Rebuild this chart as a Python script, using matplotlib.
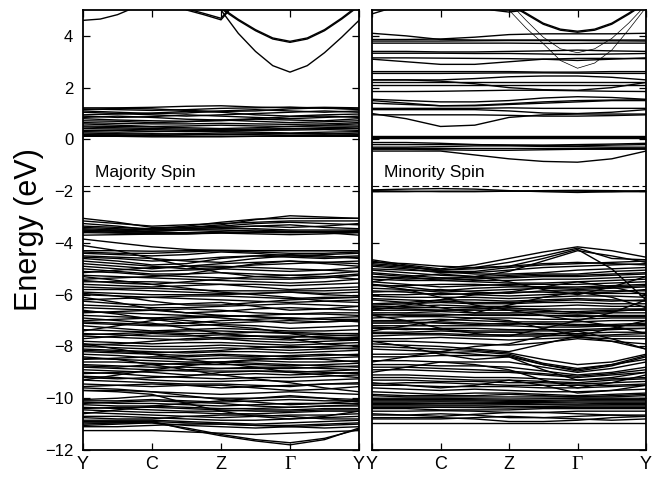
import numpy as np
import matplotlib
matplotlib.use("Agg")
import matplotlib.pyplot as plt

# k-path positions (high-symmetry points Y, C, Z, Gamma, Y)
k_ticks = [0, 1, 2, 3, 4]
k_labels = ["Y", "C", "Z", "\u0393", "Y"]
k_coarse = [0, 0.5, 1.0, 1.5, 2.0, 2.5, 3.0, 3.5, 4.0]
k_fine = [0, 0.25, 0.5, 0.75, 1.0, 1.25, 1.5, 1.75, 2.0,
          2.25, 2.5, 2.75, 3.0, 3.25, 3.5, 3.75, 4.0]

e_fermi = -1.8

# ---- majority spin ----
maj_upper_fine = [
    [4.6, 4.65, 4.82, 5.1, 5.5, 5.8, 5.9, 5.9, 5.9, 5.9, 5.9, 5.9, 5.9, 5.9, 5.9, 5.9, 5.9],
    [5.9, 5.9, 5.9, 5.9, 5.9, 5.5, 5.0, 4.82, 4.62, 5.4, 5.9, 5.9, 5.9, 5.9, 5.9, 5.9, 5.9],
    [5.9, 5.9, 5.9, 5.9, 5.9, 5.55, 5.05, 4.87, 4.68, 5.45, 5.9, 5.9, 5.9, 5.9, 5.9, 5.9, 5.9],
    [5.9, 5.9, 5.9, 5.9, 5.9, 5.9, 5.9, 5.9, 5.05, 4.6, 4.2, 3.88, 3.75, 3.88, 4.2, 4.65, 5.15],
    [5.9, 5.9, 5.9, 5.9, 5.9, 5.9, 5.9, 5.9, 5.1, 4.64, 4.24, 3.92, 3.79, 3.92, 4.24, 4.69, 5.2],
    [5.9, 5.9, 5.9, 5.9, 5.9, 5.9, 5.9, 5.9, 5.0, 4.1, 3.4, 2.85, 2.6, 2.85, 3.35, 3.95, 4.6],
]

maj_d_bands = [
    [1.22, 1.22, 1.24, 1.28, 1.3, 1.25, 1.22, 1.24, 1.22],
    [1.18, 1.15, 1.12, 1.15, 1.2, 1.22, 1.25, 1.2, 1.18],
    [1.15, 1.2, 1.18, 1.12, 1.08, 1.1, 1.18, 1.22, 1.15],
    [1.1, 1.05, 1.0, 1.02, 1.1, 1.15, 1.1, 1.05, 1.1],
    [1.05, 1.0, 0.95, 0.9, 0.95, 1.0, 1.05, 1.1, 1.05],
    [0.95, 0.98, 1.02, 1.08, 1.05, 0.95, 0.9, 0.95, 0.98],
    [0.9, 0.85, 0.88, 0.95, 0.9, 0.85, 0.8, 0.85, 0.9],
    [0.85, 0.9, 0.85, 0.78, 0.75, 0.8, 0.88, 0.9, 0.85],
    [0.8, 0.75, 0.72, 0.7, 0.72, 0.78, 0.75, 0.72, 0.8],
    [0.72, 0.7, 0.65, 0.68, 0.75, 0.7, 0.65, 0.68, 0.72],
    [0.65, 0.62, 0.6, 0.6, 0.62, 0.6, 0.58, 0.6, 0.65],
    [0.6, 0.55, 0.5, 0.52, 0.55, 0.52, 0.5, 0.55, 0.6],
    [0.52, 0.5, 0.48, 0.45, 0.42, 0.45, 0.5, 0.52, 0.52],
    [0.48, 0.45, 0.42, 0.4, 0.38, 0.4, 0.42, 0.45, 0.48],
    [0.42, 0.4, 0.38, 0.35, 0.35, 0.38, 0.4, 0.42, 0.42],
    [0.35, 0.35, 0.32, 0.3, 0.32, 0.35, 0.36, 0.38, 0.35],
    [0.3, 0.28, 0.3, 0.32, 0.3, 0.28, 0.25, 0.28, 0.3],
    [0.25, 0.22, 0.2, 0.22, 0.25, 0.24, 0.22, 0.2, 0.25],
    [0.2, 0.2, 0.22, 0.2, 0.18, 0.2, 0.22, 0.22, 0.2],
    [0.18, 0.15, 0.15, 0.17, 0.2, 0.18, 0.15, 0.15, 0.18],
    [0.15, 0.14, 0.13, 0.12, 0.12, 0.12, 0.13, 0.14, 0.15],
    [0.12, 0.12, 0.1, 0.1, 0.1, 0.12, 0.12, 0.12, 0.12],
]

maj_valence = [
    [-3.05, -3.2, -3.4, -3.4, -3.3, -3.1, -2.95, -3.0, -3.05],
    [-3.6, -3.5, -3.45, -3.35, -3.2, -3.08, -3.05, -3.05, -3.05],
    [-3.15, -3.25, -3.35, -3.3, -3.25, -3.2, -3.15, -3.15, -3.15],
    [-3.35, -3.4, -3.45, -3.4, -3.35, -3.25, -3.2, -3.25, -3.3],
    [-3.4, -3.45, -3.5, -3.45, -3.4, -3.35, -3.3, -3.4, -3.45],
    [-3.45, -3.5, -3.55, -3.5, -3.45, -3.45, -3.5, -3.5, -3.5],
    [-3.5, -3.55, -3.6, -3.6, -3.55, -3.5, -3.55, -3.55, -3.55],
    [-3.5, -3.55, -3.55, -3.5, -3.5, -3.55, -3.6, -3.58, -3.52],
    [-3.55, -3.6, -3.62, -3.62, -3.6, -3.6, -3.6, -3.6, -3.6],
    [-3.6, -3.62, -3.65, -3.65, -3.62, -3.65, -3.68, -3.65, -3.6],
    [-3.25, -3.35, -3.5, -3.45, -3.4, -3.35, -3.4, -3.35, -3.25],
    [-3.7, -3.68, -3.66, -3.65, -3.6, -3.58, -3.55, -3.6, -3.7],
    [-3.85, -4.0, -4.15, -4.25, -4.3, -4.3, -4.3, -4.3, -4.3],
    [-4.3, -4.3, -4.32, -4.3, -4.28, -4.3, -4.3, -4.3, -4.3],
    # -4.3 .. -6.3
    [-4.35, -4.4, -4.4, -4.35, -4.3, -4.35, -4.4, -4.4, -4.35],
    [-4.4, -4.45, -4.5, -4.45, -4.35, -4.4, -4.5, -4.45, -4.4],
    [-4.5, -4.55, -4.6, -4.7, -4.75, -4.6, -4.5, -4.55, -4.5],
    [-4.55, -4.6, -4.7, -4.65, -4.55, -4.5, -4.55, -4.6, -4.55],
    [-4.6, -4.7, -4.85, -4.8, -4.6, -4.5, -4.45, -4.5, -4.6],
    [-4.7, -4.8, -4.9, -5.0, -4.95, -4.85, -4.8, -4.75, -4.7],
    [-4.8, -4.9, -5.0, -4.9, -4.8, -4.75, -4.7, -4.75, -4.8],
    [-4.1, -4.3, -4.6, -4.9, -5.15, -5.3, -5.35, -5.3, -5.2],
    [-4.9, -5.0, -5.1, -5.05, -5.0, -5.05, -5.1, -5.05, -4.95],
    [-5.0, -5.1, -5.2, -5.2, -5.15, -5.2, -5.25, -5.2, -5.1],
    [-5.15, -5.05, -4.95, -4.9, -4.9, -4.95, -5.0, -5.05, -5.1],
    [-5.1, -5.15, -5.25, -5.3, -5.35, -5.4, -5.4, -5.35, -5.25],
    [-5.25, -5.3, -5.35, -5.4, -5.45, -5.5, -5.55, -5.5, -5.4],
    [-5.4, -5.35, -5.3, -5.2, -5.0, -4.8, -4.7, -4.8, -4.9],
    [-5.45, -5.55, -5.6, -5.5, -5.4, -5.3, -5.25, -5.3, -5.4],
    [-5.5, -5.5, -5.5, -5.55, -5.6, -5.6, -5.65, -5.6, -5.55],
    [-5.6, -5.65, -5.7, -5.65, -5.6, -5.7, -5.8, -5.75, -5.7],
    [-5.7, -5.75, -5.75, -5.8, -5.85, -5.85, -5.85, -5.85, -5.8],
    [-5.8, -5.8, -5.85, -5.9, -5.95, -5.95, -5.9, -5.95, -5.9],
    [-5.9, -5.95, -6.0, -6.0, -6.0, -5.95, -5.9, -6.0, -6.05],
    [-6.0, -6.05, -6.1, -6.05, -6.05, -6.1, -6.15, -6.1, -6.1],
    [-6.1, -6.3, -6.55, -6.7, -6.8, -6.85, -6.9, -6.95, -6.95],
    [-6.2, -6.15, -6.1, -6.15, -6.2, -6.25, -6.3, -6.25, -6.2],
    [-5.95, -6.05, -6.25, -6.4, -6.4, -6.3, -6.2, -6.15, -6.1],
    [-5.3, -5.45, -5.6, -5.75, -5.9, -6.0, -6.1, -6.25, -6.3],
    # -6.3 .. -8
    [-6.25, -6.35, -6.4, -6.35, -6.3, -6.45, -6.6, -6.55, -6.45],
    [-6.4, -6.45, -6.5, -6.5, -6.45, -6.4, -6.35, -6.4, -6.45],
    [-6.5, -6.55, -6.6, -6.7, -6.65, -6.55, -6.5, -6.55, -6.6],
    [-6.65, -6.7, -6.75, -6.8, -6.9, -7.0, -7.1, -7.05, -7.0],
    [-6.7, -6.65, -6.6, -6.55, -6.6, -6.7, -6.75, -6.7, -6.7],
    [-6.8, -6.85, -6.9, -6.85, -6.8, -6.85, -6.95, -6.9, -6.85],
    [-7.0, -6.95, -6.9, -7.0, -7.1, -7.05, -7.0, -7.05, -7.0],
    [-7.05, -7.1, -7.15, -7.1, -7.0, -6.95, -6.9, -6.95, -7.05],
    [-7.1, -7.15, -7.2, -7.2, -7.15, -7.2, -7.3, -7.25, -7.2],
    [-7.2, -7.3, -7.4, -7.35, -7.3, -7.35, -7.4, -7.4, -7.35],
    [-7.35, -7.4, -7.45, -7.5, -7.5, -7.45, -7.45, -7.5, -7.5],
    [-7.55, -7.5, -7.45, -7.4, -7.4, -7.45, -7.5, -7.55, -7.6],
    [-7.5, -7.55, -7.6, -7.6, -7.55, -7.6, -7.65, -7.6, -7.55],
    [-7.6, -7.65, -7.7, -7.75, -7.7, -7.7, -7.75, -7.7, -7.65],
    [-7.7, -7.6, -7.5, -7.55, -7.7, -7.8, -7.85, -7.8, -7.75],
    [-7.8, -7.85, -7.9, -7.85, -7.85, -7.9, -7.95, -7.9, -7.85],
    [-7.95, -7.9, -7.8, -7.7, -7.65, -7.6, -7.6, -7.65, -7.7],
    [-7.9, -7.95, -8.0, -8.0, -7.95, -8.0, -8.05, -8.0, -7.95],
    [-6.9, -7.0, -7.1, -7.3, -7.5, -7.6, -7.7, -7.9, -8.0],
    [-7.4, -7.2, -7.0, -6.9, -6.85, -6.8, -6.75, -6.75, -6.8],
    [-6.6, -6.75, -6.95, -7.1, -7.2, -7.3, -7.5, -7.7, -7.75],
    # -8 .. -9.7
    [-8.0, -8.05, -8.1, -8.1, -8.05, -8.1, -8.15, -8.1, -8.05],
    [-8.1, -8.15, -8.2, -8.25, -8.2, -8.2, -8.25, -8.2, -8.15],
    [-8.15, -8.2, -8.25, -8.2, -8.15, -8.05, -8.0, -8.05, -8.1],
    [-8.2, -8.25, -8.3, -8.35, -8.3, -8.35, -8.4, -8.35, -8.3],
    [-8.3, -8.35, -8.45, -8.5, -8.45, -8.45, -8.5, -8.45, -8.4],
    [-8.5, -8.45, -8.4, -8.4, -8.35, -8.4, -8.35, -8.3, -8.35],
    [-8.45, -8.5, -8.55, -8.6, -8.6, -8.55, -8.6, -8.6, -8.55],
    [-8.6, -8.6, -8.65, -8.7, -8.7, -8.7, -8.75, -8.7, -8.65],
    [-8.75, -8.8, -8.7, -8.65, -8.6, -8.65, -8.7, -8.75, -8.8],
    [-8.7, -8.75, -8.8, -8.8, -8.85, -8.85, -8.85, -8.8, -8.75],
    [-8.8, -8.85, -8.9, -8.95, -8.95, -8.95, -9.0, -8.95, -8.9],
    [-8.9, -8.95, -9.0, -9.1, -9.1, -9.05, -9.1, -9.05, -9.0],
    [-9.05, -9.0, -8.95, -8.9, -8.85, -8.8, -8.8, -8.85, -8.9],
    [-9.0, -9.05, -9.15, -9.2, -9.25, -9.2, -9.2, -9.15, -9.1],
    [-9.2, -9.25, -9.2, -9.15, -9.0, -8.95, -8.95, -9.0, -9.05],
    [-9.15, -9.2, -9.3, -9.35, -9.35, -9.3, -9.35, -9.3, -9.25],
    [-9.3, -9.35, -9.4, -9.45, -9.45, -9.5, -9.55, -9.45, -9.4],
    [-9.45, -9.5, -9.55, -9.5, -9.5, -9.6, -9.7, -9.65, -9.55],
    [-9.55, -9.5, -9.45, -9.5, -9.6, -9.55, -9.5, -9.45, -9.45],
    [-8.4, -8.5, -8.7, -8.9, -9.1, -9.25, -9.4, -9.6, -9.75],
    [-9.3, -9.1, -8.9, -8.75, -8.6, -8.5, -8.45, -8.5, -8.6],
    [-7.9, -8.1, -8.3, -8.5, -8.65, -8.8, -9.0, -9.1, -9.2],
    # -9.7 .. -12
    [-9.7, -9.7, -9.75, -9.8, -9.85, -9.8, -9.75, -9.8, -9.85],
    [-10.05, -10.0, -9.9, -9.95, -10.0, -10.0, -9.95, -10.0, -10.05],
    [-10.1, -10.1, -10.05, -10.1, -10.15, -10.1, -10.05, -10.1, -10.1],
    [-10.15, -10.2, -10.2, -10.25, -10.3, -10.25, -10.2, -10.2, -10.2],
    [-10.2, -10.15, -10.1, -10.15, -10.2, -10.3, -10.35, -10.3, -10.25],
    [-10.25, -10.3, -10.3, -10.35, -10.4, -10.4, -10.35, -10.3, -10.3],
    [-10.35, -10.4, -10.45, -10.5, -10.5, -10.45, -10.45, -10.4, -10.4],
    [-10.4, -10.35, -10.35, -10.4, -10.45, -10.5, -10.5, -10.45, -10.45],
    [-10.45, -10.5, -10.55, -10.55, -10.6, -10.6, -10.55, -10.5, -10.5],
    [-10.55, -10.6, -10.65, -10.7, -10.75, -10.7, -10.65, -10.65, -10.6],
    [-10.7, -10.7, -10.75, -10.8, -10.85, -10.85, -10.8, -10.75, -10.7],
    [-10.75, -10.8, -10.8, -10.7, -10.65, -10.65, -10.7, -10.8, -10.8],
    [-10.85, -10.85, -10.85, -10.9, -10.95, -11.0, -10.95, -10.9, -10.85],
    [-10.9, -10.9, -10.9, -10.95, -11.0, -11.05, -11.05, -11.0, -10.95],
    [-10.95, -10.95, -10.95, -11.05, -11.1, -11.15, -11.1, -11.05, -11.0],
    [-11.1, -11.1, -11.05, -11.0, -11.0, -11.05, -11.1, -11.15, -11.1],
    [-11.25, -11.25, -11.25, -11.3, -11.35, -11.4, -11.35, -11.3, -11.25],
    [-11.0, -10.95, -10.9, -11.2, -11.45, -11.65, -11.8, -11.6, -11.15],
    [-11.05, -11.0, -10.95, -11.15, -11.4, -11.6, -11.72, -11.55, -11.2],
    [-9.7, -9.75, -9.85, -10.2, -10.5, -10.7, -10.8, -10.7, -10.5],
    [-10.6, -10.45, -10.3, -10.2, -10.1, -10.0, -9.9, -10.0, -10.15],
    [-9.6, -9.65, -9.75, -9.9, -10.05, -10.15, -10.25, -10.2, -10.1],
]

# ---- minority spin ----
min_upper_fine = [
    [4.85, 5.05, 5.3, 5.6, 5.9, 5.9, 5.9, 5.9, 5.9, 5.9, 5.9, 5.9, 5.9, 5.9, 5.9, 5.9, 5.9],
    [5.9, 5.9, 5.9, 5.9, 5.9, 5.6, 5.2, 5.0, 4.92, 5.0, 5.3, 5.9, 5.9, 5.9, 5.9, 5.9, 5.9],
    [5.9, 5.9, 5.9, 5.9, 5.9, 5.9, 5.9, 5.9, 5.22, 4.84, 4.45, 4.22, 4.14, 4.22, 4.45, 4.84, 5.27],
    [5.9, 5.9, 5.9, 5.9, 5.9, 5.9, 5.9, 5.9, 5.26, 4.88, 4.49, 4.26, 4.18, 4.26, 4.49, 4.88, 5.31],
]
min_upper_thin = [
    [5.9, 5.9, 5.9, 5.9, 5.9, 5.9, 5.9, 5.9, 5.0, 4.3, 3.7, 3.05, 2.75, 2.95, 3.45, 4.25, 5.1],
    [5.9, 5.9, 5.9, 5.9, 5.9, 5.9, 5.9, 5.9, 5.3, 4.6, 3.95, 3.5, 3.35, 3.5, 3.9, 4.5, 5.2],
]

min_d_bands = [
    [4.1, 4.0, 3.86, 3.84, 3.84, 3.84, 3.84, 3.84, 3.84],
    [3.86, 3.86, 3.88, 3.95, 4.05, 4.08, 4.08, 4.08, 4.1],
    [3.8, 3.8, 3.8, 3.81, 3.82, 3.82, 3.82, 3.81, 3.8],
    [3.72, 3.72, 3.72, 3.72, 3.72, 3.71, 3.71, 3.72, 3.72],
    [3.4, 3.4, 3.38, 3.38, 3.4, 3.42, 3.45, 3.42, 3.4],
    [3.33, 3.33, 3.33, 3.32, 3.32, 3.3, 3.28, 3.3, 3.32],
    [3.1, 3.0, 2.9, 2.9, 3.0, 3.1, 3.13, 3.13, 3.12],
    [3.15, 3.15, 3.14, 3.13, 3.12, 3.1, 3.05, 3.1, 3.15],
    [2.62, 2.62, 2.62, 2.62, 2.62, 2.6, 2.6, 2.62, 2.62],
    [2.55, 2.55, 2.55, 2.56, 2.57, 2.57, 2.56, 2.55, 2.55],
    [2.3, 2.3, 2.3, 2.35, 2.42, 2.45, 2.45, 2.4, 2.3],
    [2.3, 2.3, 2.25, 2.15, 2.0, 1.92, 1.9, 2.0, 2.2],
    [2.22, 2.22, 2.22, 2.22, 2.22, 2.22, 2.22, 2.22, 2.22],
    [2.1, 2.1, 2.1, 2.1, 2.1, 2.1, 2.1, 2.1, 2.1],
    [1.85, 1.85, 1.86, 1.88, 1.9, 1.9, 1.88, 1.86, 1.85],
    [1.55, 1.5, 1.45, 1.45, 1.5, 1.6, 1.65, 1.62, 1.55],
    [1.5, 1.4, 1.3, 1.32, 1.38, 1.45, 1.5, 1.52, 1.53],
    [1.4, 1.35, 1.3, 1.3, 1.35, 1.4, 1.45, 1.5, 1.5],
    [1.2, 1.2, 1.2, 1.2, 1.22, 1.2, 1.2, 1.2, 1.2],
    [1.15, 1.15, 1.15, 1.15, 1.1, 1.02, 1.0, 1.05, 1.15],
    [1.0, 0.8, 0.5, 0.55, 0.85, 0.95, 0.98, 0.98, 0.98],
    [0.95, 0.95, 0.95, 0.95, 0.93, 0.9, 0.9, 0.92, 0.95],
    [0.14, 0.14, 0.14, 0.14, 0.14, 0.14, 0.14, 0.14, 0.14],
    [0.1, 0.1, 0.1, 0.1, 0.1, 0.1, 0.1, 0.1, 0.1],
    [0.04, 0.04, 0.04, 0.04, 0.04, 0.04, 0.04, 0.04, 0.04],
    [-0.12, -0.12, -0.15, -0.2, -0.22, -0.22, -0.2, -0.18, -0.15],
    [-0.2, -0.2, -0.2, -0.2, -0.22, -0.24, -0.25, -0.22, -0.2],
    [-0.3, -0.3, -0.28, -0.25, -0.25, -0.27, -0.28, -0.3, -0.3],
    [-0.35, -0.35, -0.35, -0.35, -0.35, -0.35, -0.35, -0.35, -0.35],
    [-0.38, -0.38, -0.4, -0.42, -0.42, -0.4, -0.38, -0.38, -0.38],
    [-0.45, -0.45, -0.45, -0.6, -0.75, -0.85, -0.88, -0.75, -0.45],
    [-1.95, -1.92, -1.9, -1.92, -1.98, -2.02, -2.05, -2.02, -1.98],
    [-2.02, -2.02, -2.0, -2.0, -2.0, -2.0, -2.0, -2.02, -2.02],
    [-1.98, -2.0, -2.02, -2.02, -2.0, -1.98, -1.97, -1.98, -2.0],
]

min_valence = [
    [-4.65, -4.85, -5.0, -4.85, -4.6, -4.35, -4.15, -4.3, -4.55],
    [-4.7, -4.9, -5.05, -4.95, -4.75, -4.5, -4.2, -4.6, -4.65],
    [-4.75, -4.8, -4.9, -4.95, -4.9, -4.6, -4.25, -5.0, -6.2],
    [-5.3, -5.35, -5.4, -5.3, -5.1, -4.7, -4.3, -4.5, -4.75],
    [-4.8, -4.9, -5.1, -5.1, -4.95, -4.85, -4.8, -4.75, -4.7],
    [-4.85, -4.95, -5.05, -5.0, -4.9, -4.8, -4.75, -4.8, -4.85],
    [-4.9, -5.0, -5.15, -5.15, -5.05, -4.95, -4.9, -4.85, -4.8],
    [-5.0, -5.05, -5.1, -5.2, -5.2, -5.15, -5.05, -5.0, -4.95],
    [-5.05, -5.15, -5.25, -5.3, -5.25, -5.2, -5.2, -5.1, -5.05],
    [-5.15, -5.25, -5.35, -5.35, -5.35, -5.3, -5.3, -5.25, -5.2],
    [-5.2, -5.3, -5.45, -5.4, -5.3, -5.25, -5.25, -5.2, -5.15],
    [-5.3, -5.4, -5.35, -5.45, -5.45, -5.4, -5.4, -5.35, -5.3],
    [-5.4, -5.45, -5.45, -5.5, -5.55, -5.55, -5.5, -5.45, -5.4],
    [-5.5, -5.6, -5.7, -5.65, -5.6, -5.6, -5.6, -5.55, -5.5],
    [-5.6, -5.7, -5.85, -5.75, -5.7, -5.7, -5.7, -5.65, -5.6],
    [-5.65, -5.65, -5.6, -5.6, -5.65, -5.7, -5.75, -5.7, -5.65],
    [-5.75, -5.8, -5.9, -5.85, -5.8, -5.75, -5.8, -5.75, -5.7],
    [-5.85, -5.9, -6.0, -5.95, -5.9, -5.9, -5.95, -5.9, -5.8],
    [-5.9, -5.85, -5.8, -5.9, -5.95, -5.85, -5.85, -5.85, -5.85],
    [-6.0, -6.0, -5.95, -6.0, -6.05, -6.0, -5.95, -5.95, -5.95],
    [-6.05, -6.1, -6.1, -6.1, -6.15, -6.1, -6.05, -6.05, -6.1],
    [-6.15, -6.2, -6.25, -6.3, -6.3, -6.25, -6.2, -6.25, -6.2],
    [-6.35, -6.3, -6.2, -6.2, -6.25, -6.2, -6.15, -6.2, -6.25],
    [-6.4, -6.35, -6.3, -6.35, -6.35, -6.3, -6.3, -6.35, -6.35],
    [-6.45, -6.45, -6.4, -6.45, -6.45, -6.45, -6.4, -6.45, -6.45],
    [-6.5, -6.55, -6.6, -6.55, -6.5, -6.6, -6.7, -6.65, -6.55],
    [-6.55, -6.5, -6.5, -6.5, -6.55, -6.55, -6.55, -6.55, -6.55],
    [-6.6, -6.6, -6.6, -6.6, -6.6, -6.65, -6.65, -6.6, -6.6],
    [-6.7, -6.7, -6.65, -6.7, -6.7, -6.7, -6.75, -6.7, -6.7],
    [-6.75, -6.8, -6.8, -6.75, -6.75, -6.8, -6.8, -6.85, -6.85],
    [-6.8, -6.75, -6.75, -6.8, -6.8, -6.8, -6.85, -6.8, -6.8],
    [-6.9, -6.85, -6.85, -6.9, -6.9, -6.95, -6.95, -6.9, -6.9],
    [-7.0, -7.0, -6.95, -7.0, -7.05, -7.05, -7.05, -7.0, -7.0],
    [-7.05, -7.05, -7.1, -7.15, -7.1, -7.15, -7.2, -7.2, -7.15],
    [-7.1, -7.1, -7.05, -7.1, -7.15, -7.1, -7.15, -7.15, -7.1],
    [-7.2, -7.2, -7.2, -7.2, -7.2, -7.25, -7.25, -7.2, -7.2],
    [-7.25, -7.3, -7.35, -7.4, -7.4, -7.4, -7.4, -7.35, -7.3],
    [-7.3, -7.35, -7.3, -7.3, -7.35, -7.35, -7.35, -7.3, -7.3],
    [-7.45, -7.45, -7.4, -7.45, -7.45, -7.5, -7.5, -7.45, -7.45],
    [-7.5, -7.5, -7.5, -7.55, -7.55, -7.55, -7.6, -7.55, -7.5],
    [-7.6, -7.55, -7.55, -7.6, -7.6, -7.6, -7.55, -7.6, -7.6],
    [-7.7, -7.7, -7.65, -7.7, -7.75, -7.7, -7.65, -7.7, -7.7],
    [-7.8, -7.8, -7.85, -7.9, -7.95, -7.85, -7.7, -7.8, -7.9],
    [-7.9, -7.95, -8.0, -8.1, -8.2, -7.9, -7.6, -7.8, -8.1],
    [-8.0, -8.05, -8.1, -8.15, -8.25, -8.5, -8.7, -8.6, -8.3],
    [-8.1, -8.15, -8.2, -8.3, -8.4, -8.7, -8.9, -8.7, -8.5],
    [-8.3, -8.3, -8.25, -8.2, -8.3, -8.65, -8.85, -8.7, -8.35],
    [-8.4, -8.4, -8.35, -8.35, -8.35, -8.7, -8.95, -8.75, -8.4],
    [-8.55, -8.55, -8.6, -8.6, -8.6, -8.8, -9.0, -8.85, -8.6],
    [-8.7, -8.7, -8.75, -8.75, -8.8, -8.95, -9.1, -9.0, -8.8],
    [-8.8, -8.8, -8.85, -8.9, -8.95, -9.05, -9.15, -9.05, -8.9],
    [-8.9, -8.9, -8.95, -9.0, -9.0, -9.1, -9.2, -9.1, -9.0],
    [-9.1, -9.1, -9.15, -9.2, -9.2, -9.25, -9.3, -9.25, -9.2],
    [-9.2, -9.2, -9.25, -9.3, -9.3, -9.35, -9.4, -9.3, -9.25],
    [-9.3, -9.3, -9.35, -9.35, -9.4, -9.4, -9.45, -9.4, -9.35],
    [-9.45, -9.4, -9.4, -9.45, -9.5, -9.5, -9.5, -9.5, -9.45],
    [-9.5, -9.5, -9.55, -9.55, -9.55, -9.6, -9.6, -9.55, -9.5],
    [-9.6, -9.65, -9.7, -9.65, -9.7, -9.75, -9.75, -9.7, -9.65],
    [-9.75, -9.8, -9.85, -9.8, -9.8, -9.85, -9.9, -9.85, -9.8],
    [-9.85, -9.9, -9.9, -9.9, -9.85, -9.9, -9.95, -9.9, -9.85],
    [-9.9, -9.95, -9.95, -9.95, -9.95, -9.95, -9.95, -9.95, -9.9],
    [-10.0, -10.0, -10.0, -10.02, -10.03, -10.02, -10.0, -10.0, -10.0],
    [-10.05, -10.05, -10.05, -10.06, -10.08, -10.08, -10.06, -10.05, -10.05],
    [-10.1, -10.1, -10.1, -10.1, -10.12, -10.12, -10.1, -10.1, -10.1],
    [-10.15, -10.15, -10.14, -10.15, -10.16, -10.16, -10.15, -10.15, -10.15],
    [-10.2, -10.2, -10.2, -10.2, -10.2, -10.22, -10.22, -10.2, -10.2],
    [-10.25, -10.25, -10.26, -10.26, -10.25, -10.25, -10.26, -10.25, -10.25],
    [-10.3, -10.3, -10.3, -10.3, -10.32, -10.32, -10.3, -10.3, -10.3],
    [-10.35, -10.35, -10.35, -10.36, -10.38, -10.36, -10.35, -10.35, -10.35],
    [-10.4, -10.4, -10.45, -10.45, -10.45, -10.4, -10.4, -10.4, -10.4],
    [-10.5, -10.5, -10.48, -10.5, -10.55, -10.55, -10.5, -10.5, -10.5],
    [-10.65, -10.65, -10.6, -10.65, -10.75, -10.75, -10.7, -10.65, -10.65],
    [-10.75, -10.75, -10.75, -10.8, -10.9, -10.9, -10.85, -10.75, -10.7],
    [-10.8, -10.8, -10.8, -10.75, -10.7, -10.75, -10.8, -10.85, -10.8],
    [-10.6, -10.65, -10.7, -10.62, -10.55, -10.55, -10.6, -10.65, -10.7],
    [-10.95, -10.95, -10.95, -10.95, -10.95, -10.95, -10.95, -10.95, -10.95],
    # crossing bands
    [-5.6, -5.8, -6.1, -6.4, -6.6, -6.8, -7.0, -6.7, -6.2],
    [-6.6, -6.4, -6.2, -6.0, -5.9, -5.7, -5.5, -5.7, -6.0],
    [-7.4, -7.2, -7.0, -6.9, -7.0, -7.3, -7.6, -7.3, -7.0],
    [-6.8, -7.0, -7.3, -7.5, -7.6, -7.3, -7.0, -7.2, -7.5],
    [-8.6, -8.4, -8.2, -8.0, -7.9, -7.6, -7.4, -7.7, -8.1],
    [-7.8, -8.0, -8.3, -8.5, -8.4, -8.9, -9.3, -9.2, -9.0],
    [-9.0, -8.8, -8.6, -8.7, -8.9, -9.3, -9.6, -9.4, -9.1],
    [-9.4, -9.5, -9.6, -9.5, -9.3, -9.5, -9.8, -9.7, -9.5],
    [-5.5, -5.3, -5.2, -5.3, -5.5, -5.8, -6.0, -5.7, -5.3],
    [-6.2, -6.3, -6.5, -6.7, -6.4, -6.1, -5.9, -6.1, -6.5],
]

plt.rcParams["font.family"] = ["Liberation Sans", "DejaVu Sans"]

fig = plt.figure(figsize=(6.63, 4.79), dpi=100)
ax1 = fig.add_axes([83 / 663, 1 - 450 / 479, 276 / 663, 440 / 479])
ax2 = fig.add_axes([372 / 663, 1 - 450 / 479, 274 / 663, 440 / 479])

lw = 1.0


def draw_panel(ax, fine_bands, thin_bands, bands, label):
    for b in fine_bands:
        ax.plot(k_fine, b, color="black", lw=lw)
    for b in thin_bands:
        ax.plot(k_fine, b, color="black", lw=0.5)
    for b in bands:
        ax.plot(k_coarse, b, color="black", lw=lw)
    ax.axhline(e_fermi, color="black", lw=0.8, ls=(0, (6, 3)))
    ax.text(0.043, -1.45, label, fontsize=12.5, transform=ax.get_yaxis_transform())
    ax.set_xlim(0, 4)
    ax.set_ylim(-12, 5)
    ax.set_xticks(k_ticks)
    ax.set_xticklabels(k_labels, fontsize=13)
    ax.get_xticklabels()[3].set_family("Liberation Serif")
    ax.get_xticklabels()[3].set_fontsize(14)
    ax.set_yticks(np.arange(-12, 5, 2))
    ax.tick_params(direction="in", top=True, right=True, length=5, width=0.9)
    ax.tick_params(axis="x", pad=4)
    ax.tick_params(axis="y", pad=7, labelsize=12)
    for s in ax.spines.values():
        s.set_linewidth(1.3)


draw_panel(ax1, maj_upper_fine, [], maj_d_bands + maj_valence, "Majority Spin")
draw_panel(ax2, min_upper_fine, min_upper_thin, min_d_bands + min_valence, "Minority Spin")
ax2.set_yticklabels([])

fig.text(29 / 663, 1 - 230 / 479, "Energy (eV)", rotation=90, fontsize=22,
         ha="center", va="center")

fig.savefig("out.png", dpi=100)
